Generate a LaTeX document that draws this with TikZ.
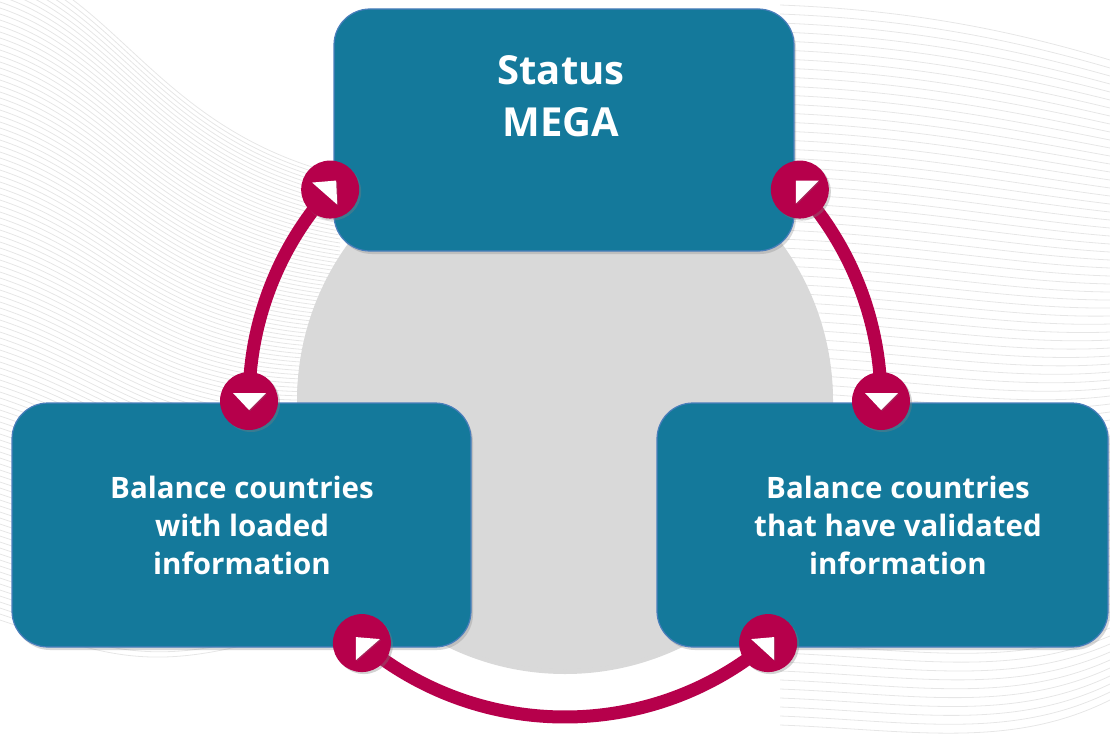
\documentclass[tikz,border=0pt]{standalone}
\usepackage{fontspec}
\setmainfont{Open Sans}
\usetikzlibrary{shadows}
\pgfdeclarelayer{back}
\pgfsetlayers{back,main}

\definecolor{boxblue}{HTML}{14799B}
\definecolor{boxline}{HTML}{4A7EBB}
\definecolor{crimson}{HTML}{B6004B}
\definecolor{discgray}{HTML}{D9D9D9}
\definecolor{bgline}{HTML}{E6E6E6}

\begin{document}
\begin{tikzpicture}[x=1pt, y=-1pt,
    stage/.style={draw=boxline, line width=1.2pt, fill=boxblue, rounded corners=36pt, inner sep=0pt,
      drop shadow={shadow xshift=2pt, shadow yshift=-3pt, opacity=.3}},
    stagetext/.style={text=white, align=center, font=\bfseries\fontsize{29.5}{38}\selectfont},
    knob/.style={circle, fill=crimson, minimum size=58pt, inner sep=0pt,
      drop shadow={shadow xshift=2pt, shadow yshift=-2pt, opacity=.35}},
    tip/.style={fill=white, drop shadow={shadow xshift=1pt, shadow yshift=-1pt, opacity=.3}},
    cycleline/.style={draw=crimson, line width=13pt},
    bgwave/.style={draw=bgline, line width=.8pt}]

  \newcommand\Rad{316}

  \useasboundingbox (0,0) rectangle (1110,733);

  \coordinate (hub) at (565,401);

  % the three stages
  \node[stage, minimum width=460pt, minimum height=242pt] (status) at (564,130) {};
  \node[stage, minimum width=459pt, minimum height=244pt] (loaded) at (241.5,525) {};
  \node[stage, minimum width=451pt, minimum height=244pt] (validated) at (882.5,525) {};

  \node[stagetext, font=\bfseries\fontsize{40}{52}\selectfont] (statustxt) at (561,96) {Status\\MEGA};
  \node[stagetext] (loadedtxt) at (242,525) {Balance countries\\with loaded\\information};
  \node[stagetext] (validatedtxt) at (898,525) {Balance countries\\that have validated\\information};

  % knobs on the ring
  \node[knob] (mTL) at ([shift={(222:\Rad)}]hub) {};
  \node[knob] (mTR) at ([shift={(318:\Rad)}]hub) {};
  \node[knob] (mL) at ([shift={(180:\Rad)}]hub) {};
  \node[knob] (mR) at ([shift={(0:\Rad)}]hub) {};
  \node[knob] (mBL) at ([shift={(130:\Rad)}]hub) {};
  \node[knob] (mBR) at ([shift={(50:\Rad)}]hub) {};

  \fill[tip] ([shift={(-18,-7)}]mTL.center) -- ([shift={(6,-9)}]mTL.center) -- ([shift={(7,15)}]mTL.center) -- cycle;
  \fill[tip] ([shift={(-4,-9)}]mTR.center) -- ([shift={(19,-9)}]mTR.center) -- ([shift={(-4,14)}]mTR.center) -- cycle;
  \fill[tip] ([shift={(-16,-8)}]mL.center) -- ([shift={(17,-8)}]mL.center) -- ([shift={(0,9)}]mL.center) -- cycle;
  \fill[tip] ([shift={(-16,-8)}]mR.center) -- ([shift={(17,-8)}]mR.center) -- ([shift={(0,9)}]mR.center) -- cycle;
  \fill[tip] ([shift={(-6,-6)}]mBL.center) -- ([shift={(18,-4)}]mBL.center) -- ([shift={(-6,17)}]mBL.center) -- cycle;
  \fill[tip] ([shift={(-17,-4)}]mBR.center) -- ([shift={(6,-6)}]mBR.center) -- ([shift={(6,17)}]mBR.center) -- cycle;

  \begin{pgfonlayer}{back}
    % faint background lines
    \foreach \i in {0,...,110}
      \draw[bgwave] (0,6*\i-40) .. controls (120,6*\i) and (160,130+5*\i) .. (340,175+4*\i);
    \foreach \i in {0,...,80}
      \draw[bgwave] (780,5+9*\i) .. controls (910,10+9*\i) and (1010,30+9*\i) .. (1110,60+8*\i);

    \node[circle, fill=discgray, minimum size=536pt, inner sep=0pt,
      drop shadow={shadow xshift=0pt, shadow yshift=-5pt, opacity=.3}] (disc) at (hub) {};

    \draw[cycleline] (mTL.center) arc[start angle=222, end angle=180, radius=\Rad];
    \draw[cycleline] (mTR.center) arc[start angle=-42, end angle=0, radius=\Rad];
    \draw[cycleline] (mBL.center) arc[start angle=130, end angle=50, radius=\Rad];
  \end{pgfonlayer}

\end{tikzpicture}
\end{document}
